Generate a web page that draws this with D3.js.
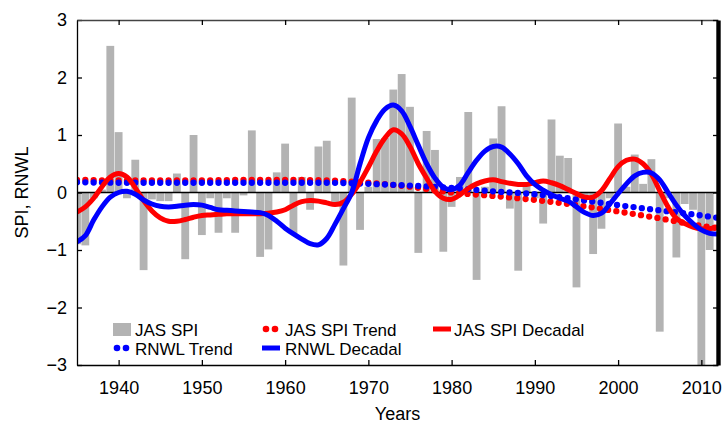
<!DOCTYPE html>
<html>
<head>
<meta charset="utf-8">
<script src="https://cdn.jsdelivr.net/npm/d3@7"></script>
<style>
  body { margin: 0; background: #fff; }
  svg { display: block; font-family: "Liberation Sans", Arial, sans-serif; }
</style>
</head>
<body>
<svg id="chart" width="725" height="423"></svg>
<script>
// JAS SPI yearly values, 1935..2011
const spiStart = 1935
const spiValues = [
  -0.9, -0.92, -0.1, 0.05, 2.55, 1.05, -0.1, 0.57, -1.35, -0.12,
  -0.15, -0.15, 0.33, -1.16, 1.0, -0.74, -0.1, -0.7, -0.1, -0.7,
  -0.05, 1.08, -1.12, -0.99, 0.35, 0.85, -0.72, 0.27, -0.3, 0.8,
  0.9, -0.2, -1.27, 1.65, -0.65, 0.1, 0.93, 0.95, 1.79, 2.06,
  1.49, -1.05, 1.07, 0.74, -1.03, -0.25, 0.27, 1.4, -1.52, 0.1,
  0.94, 1.5, -0.28, -1.36, 0.15, -0.1, -0.54, 1.27, 0.64, 0.6,
  -1.65, -0.1, -1.07, -0.63, -0.1, 1.2, 0.1, 0.66, 0.15, 0.58,
  -2.42, -0.1, -1.13, -0.2, -0.3, -3.2, -1.0
]

// trend curves (read every 5 years)
const trendYears = [1935, 1940, 1945, 1950, 1955, 1960, 1965, 1970, 1975, 1980, 1985, 1990, 1995, 2000, 2005, 2010, 2012]
const spiTrend = [0.22, 0.21, 0.21, 0.21, 0.22, 0.22, 0.21, 0.17, 0.1, 0.0, -0.06, -0.13, -0.22, -0.33, -0.45, -0.58, -0.62]
const rnwlTrend = [0.18, 0.17, 0.17, 0.17, 0.17, 0.17, 0.17, 0.15, 0.12, 0.08, 0.02, -0.03, -0.12, -0.22, -0.31, -0.4, -0.44]

// decadal (smoothed) curves, one value per year 1935..2012
const decadalStart = 1935
const spiDecadal = [
  -0.34, -0.25, -0.1, 0.1, 0.27, 0.33, 0.27, 0.08, -0.14, -0.32,
  -0.44, -0.5, -0.5, -0.47, -0.43, -0.4, -0.39, -0.38, -0.37, -0.37,
  -0.37, -0.37, -0.37, -0.36, -0.34, -0.3, -0.22, -0.16, -0.14, -0.15,
  -0.18, -0.21, -0.17, -0.03, 0.18, 0.44, 0.72, 0.95, 1.09, 1.02,
  0.8, 0.5, 0.25, 0.02, -0.1, -0.12, -0.04, 0.07, 0.15, 0.2,
  0.22, 0.19, 0.16, 0.14, 0.14, 0.17, 0.2, 0.17, 0.12, 0.05,
  -0.02, -0.08, -0.08, 0.03, 0.24, 0.45, 0.56, 0.58, 0.5, 0.32,
  0.03, -0.25, -0.45, -0.54, -0.6, -0.63, -0.63, -0.6
]
const rnwlDecadal = [
  -0.86, -0.75, -0.48, -0.25, -0.08, 0.0, 0.02, -0.03, -0.13, -0.2,
  -0.24, -0.25, -0.24, -0.22, -0.21, -0.22, -0.26, -0.3, -0.31, -0.32,
  -0.33, -0.34, -0.35, -0.4, -0.5, -0.62, -0.72, -0.81, -0.89, -0.91,
  -0.8, -0.55, -0.28, 0.0, 0.5, 0.95, 1.25, 1.45, 1.52, 1.42,
  1.15, 0.82, 0.5, 0.25, 0.09, 0.05, 0.13, 0.35, 0.56, 0.72,
  0.8, 0.79, 0.67, 0.5, 0.29, 0.14, 0.04, -0.04, -0.1, -0.15,
  -0.25, -0.35, -0.4, -0.36, -0.2, -0.02, 0.15, 0.29, 0.35, 0.34,
  0.22, 0.0, -0.22, -0.4, -0.54, -0.65, -0.71, -0.72
]

const xTicks = [1940, 1950, 1960, 1970, 1980, 1990, 2000, 2010]
const yTicks = [-3, -2, -1, 0, 1, 2, 3]

const RED = '#ff0000', BLUE = '#0000ff', GREY = '#b3b3b3'

const margin = { top: 20, left: 77 }
const width = 641, height = 345

const svg = d3.select('#chart')
const g = svg.append('g').attr('transform', `translate(${margin.left},${margin.top})`)

const x = d3.scaleLinear().domain([1935, 2012]).range([0, width])
const y = d3.scaleLinear().domain([-3, 3]).range([height, 0])
const yearStep = x(1936) - x(1935)

g.append('clipPath').attr('id', 'plot-clip')
  .append('rect').attr('width', width).attr('height', height)

const plot = g.append('g').attr('clip-path', 'url(#plot-clip)')

// bars
const bars = spiValues.map((v, i) => [spiStart + i, v])
plot.selectAll('rect.bar').data(bars).join('rect')
  .attr('class', 'bar')
  .attr('x', d => x(d[0] - 0.47))
  .attr('width', d => x(d[0] + 0.47) - x(d[0] - 0.47))
  .attr('y', d => y(Math.max(0, d[1])))
  .attr('height', d => Math.abs(y(d[1]) - y(0)))
  .attr('fill', GREY)

// zero line
plot.append('line')
  .attr('x1', 0).attr('x2', width)
  .attr('y1', y(0)).attr('y2', y(0))
  .attr('stroke', '#000').attr('stroke-width', 1.5)

const smooth = d3.line().x(d => x(d[0])).y(d => y(d[1])).curve(d3.curveMonotoneX)
const decadal = d3.line().x(d => x(d[0])).y(d => y(d[1])).curve(d3.curveCatmullRom.alpha(0.5))

function drawTrend(values, color) {
  plot.append('path')
    .datum(trendYears.map((yr, i) => [yr, values[i]]))
    .attr('fill', 'none')
    .attr('stroke', color)
    .attr('stroke-width', 6.3)
    .attr('stroke-linecap', 'round')
    .attr('stroke-dasharray', `0 ${yearStep}`)
    .attr('d', smooth)
}

function drawDecadal(values, color) {
  plot.append('path')
    .datum(values.map((v, i) => [decadalStart + i, v]))
    .attr('fill', 'none')
    .attr('stroke', color)
    .attr('stroke-width', 5)
    .attr('stroke-linejoin', 'round')
    .attr('d', decadal)
}

drawTrend(spiTrend, RED)
drawTrend(rnwlTrend, BLUE)
drawDecadal(spiDecadal, RED)
drawDecadal(rnwlDecadal, BLUE)

// axes
const axLeft = g.append('g')
  .call(d3.axisLeft(y).tickValues(yTicks).tickFormat(d3.format('d')).tickSize(-5).tickSizeOuter(0).tickPadding(10))
const axBottom = g.append('g')
  .attr('transform', `translate(0,${height})`)
  .call(d3.axisBottom(x).tickValues(xTicks).tickFormat(d3.format('d')).tickSize(-5).tickSizeOuter(0).tickPadding(16))
const axTop = g.append('g')
  .call(d3.axisTop(x).tickValues(xTicks).tickFormat('').tickSize(-5).tickSizeOuter(0))
const axRight = g.append('g')
  .attr('transform', `translate(${width},0)`)
  .call(d3.axisRight(y).tickValues(yTicks).tickFormat('').tickSize(-5).tickSizeOuter(0))

for (const ax of [axLeft, axBottom, axTop, axRight]) {
  ax.selectAll('.domain').attr('stroke', '#000').attr('stroke-width', 1.3)
  ax.selectAll('.tick line').attr('stroke', '#000').attr('stroke-width', 1.3)
  ax.selectAll('text').attr('font-size', 18).attr('fill', '#000').attr('font-family', null)
}
axTop.select('.domain').attr('stroke', '#444')
axRight.select('.domain').attr('stroke-width', 4.4)

// axis titles
svg.append('text')
  .attr('transform', `translate(28,${margin.top + height / 2}) rotate(-90)`)
  .attr('text-anchor', 'middle')
  .attr('font-size', 18)
  .text('SPI, RNWL')
svg.append('text')
  .attr('x', margin.left + width / 2).attr('y', 420)
  .attr('text-anchor', 'middle')
  .attr('font-size', 18)
  .text('Years')

// legend
const legend = g.append('g')
const rows = [309, 328]
function legendLabel(lx, ly, txt) {
  legend.append('text').attr('x', lx).attr('y', ly + 7).attr('font-size', 17).text(txt)
}
function legendDots(lx, ly, color) {
  for (const dx of [0, 9]) {
    legend.append('circle').attr('cx', lx + dx).attr('cy', ly).attr('r', 3.3).attr('fill', color)
  }
}
function legendDash(lx, ly, color) {
  legend.append('line').attr('x1', lx).attr('x2', lx + 18).attr('y1', ly).attr('y2', ly)
    .attr('stroke', color).attr('stroke-width', 5)
}
legend.append('rect').attr('x', 36).attr('y', rows[0] - 6).attr('width', 18).attr('height', 13).attr('fill', GREY)
legendLabel(58, rows[0], 'JAS SPI')
legendDots(189, rows[0], RED)
legendLabel(208, rows[0], 'JAS SPI Trend')
legendDash(356, rows[0], RED)
legendLabel(377, rows[0], 'JAS SPI Decadal')
legendDots(40, rows[1], BLUE)
legendLabel(58, rows[1], 'RNWL Trend')
legendDash(185, rows[1], BLUE)
legendLabel(208, rows[1], 'RNWL Decadal')

// the reference image is cropped a little short on the right
svg.append('rect').attr('x', 722).attr('y', 0).attr('width', 3).attr('height', 423).attr('fill', '#fff')
</script>
</body>
</html>
